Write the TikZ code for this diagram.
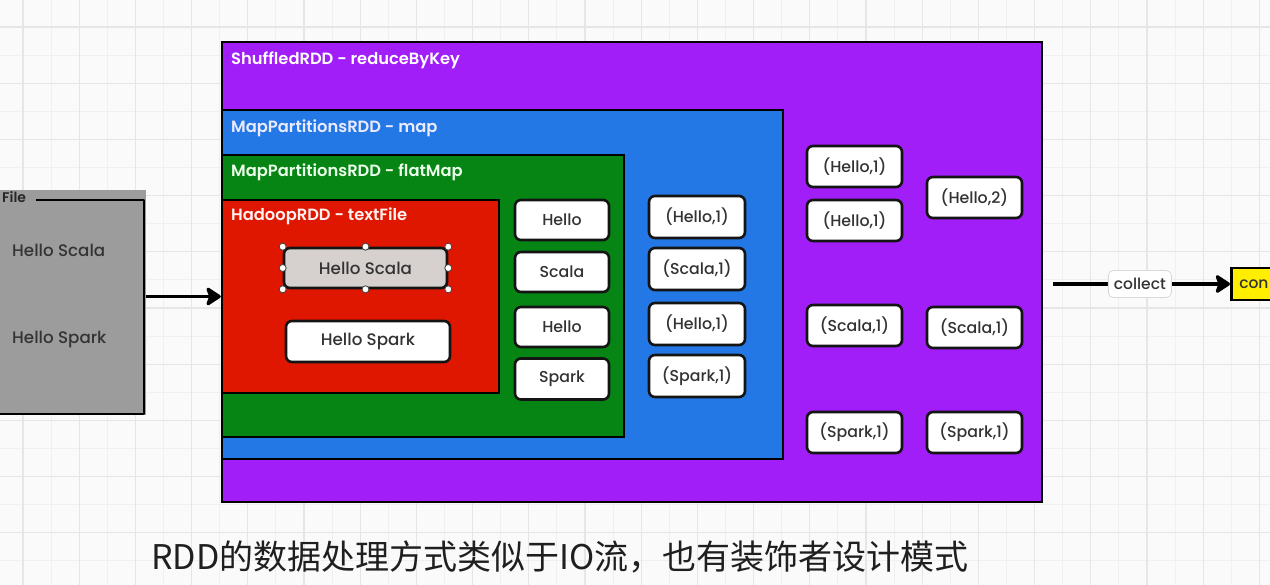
\documentclass[tikz,border=0pt]{standalone}
\usepackage{fontspec}
\setmainfont{Poppins}[UprightFont=* Medium, BoldFont=* SemiBold]
\newfontfamily\cjk{Noto Sans CJK SC}
\usetikzlibrary{arrows.meta,fit,calc}
\definecolor{bgc}{HTML}{FAFAFA}
\definecolor{gridminor}{HTML}{F0F0F0}
\definecolor{gridmajor}{HTML}{E6E6E6}
\definecolor{cpurple}{HTML}{A11EF8}
\definecolor{cblue}{HTML}{2478E6}
\definecolor{cgreen}{HTML}{068514}
\definecolor{cred}{HTML}{E01700}
\definecolor{cfile}{HTML}{9C9C9C}
\definecolor{csel}{HTML}{D6D0CE}
\definecolor{cyellow}{HTML}{FFEE00}
\definecolor{txt}{HTML}{333333}
\begin{document}
\begin{tikzpicture}[x=1pt,y=-1pt,
  cont/.style={rectangle, draw=black, line width=2.5pt, inner sep=0pt},
  clab/.style={anchor=west, inner sep=0pt, font=\bfseries\fontsize{16.3}{19}\selectfont},
  wbox/.style={rectangle, draw=black!92, line width=2.6pt, fill=white, rounded corners=6pt,
    minimum width=95pt, minimum height=41pt, inner sep=0pt, text=txt,
    font=\fontsize{15.8}{18}\selectfont},
  bigbox/.style={wbox, minimum width=164pt, font=\fontsize{16.7}{19}\selectfont},
  filetxt/.style={anchor=west, inner sep=0pt, text=txt, font=\fontsize{16.7}{19}\selectfont},
  handle/.style={circle, fill=white, draw=black!75, line width=0.8pt, inner sep=0pt, minimum size=7pt},
  arr/.style={line width=3.8pt, -{Stealth[length=17pt,width=22pt,inset=4pt,round]}},
  collectlab/.style={rectangle, rounded corners=5pt, fill=white, draw=black!15, line width=0.8pt,
    minimum width=63pt, minimum height=27pt, inner sep=0pt, text=txt, font=\fontsize{15.5}{18}\selectfont},
  ybox/.style={rectangle, fill=cyellow, draw=black, line width=2.5pt, anchor=west,
    minimum height=32pt, text width=50pt, align=left, inner xsep=8pt, inner ysep=0pt,
    text=txt, font=\fontsize{15.5}{18}\selectfont}
]
\useasboundingbox (0,0) rectangle (1270,585);
\fill[bgc] (0,0) rectangle (1270,585);
% grid
\foreach \i in {-1,...,45} {
  \draw[gridminor, line width=1pt] ({23+28.1*\i},0) -- ({23+28.1*\i},585);
}
\foreach \i in {-1,...,20} {
  \draw[gridminor, line width=1pt] (0,{27+28.1*\i}) -- (1270,{27+28.1*\i});
}
\foreach \i in {-1,...,22} {
  \draw[gridmajor, line width=1.2pt] ({23+56.2*\i},0) -- ({23+56.2*\i},585);
}
\foreach \i in {-1,...,10} {
  \draw[gridmajor, line width=1.2pt] (0,{27+56.2*\i}) -- (1270,{27+56.2*\i});
}

% File box
\node[rectangle, fill=cfile, inner sep=0pt, fit={(0,190) (146,415)}] (file) {};
\draw[black, line width=2.5pt, line join=round]
  ($(file.north west)+(36,10)$) -- ($(file.north east)+(-2,10)$)
  -- ($(file.south east)+(-2,-1)$) -- ($(file.south west)+(0,-1)$);
\node[anchor=west, inner sep=0pt, text=black!85, font=\bfseries\fontsize{14}{16}\selectfont] (filelab) at (2,197) {File};
\node[filetxt] (f1) at (12,250) {Hello Scala};
\node[filetxt] (f2) at (12,340) {Hello Spark};

% Containers
\node[cont, fill=cpurple, fit={(222,42) (1042,502)}] (shuffled) {};
\node[cont, fill=cblue, fit={(222,110) (783,459)}] (mapp) {};
\node[cont, fill=cgreen, fit={(222,155) (624,437)}] (flatmap) {};
\node[cont, fill=cred, fit={(222,200) (499,393)}] (hadoop) {};

\node[clab, text=white] (shuffledlab) at (231,60) {ShuffledRDD - reduceByKey};
\node[clab, text=white!92!blue] (mapplab) at (231,128) {MapPartitionsRDD - map};
\node[clab, text=white!92!green] (flatmaplab) at (231,172) {MapPartitionsRDD - flatMap};
\node[clab, text=white!95!red] (hadooplab) at (231,216) {HadoopRDD - textFile};

% HadoopRDD contents
\node[bigbox, fill=csel, minimum width=163pt, minimum height=40pt] (hs) at (365.5,268) {Hello Scala};
\node[bigbox] (hsp) at (368,341.5) {Hello Spark};
\foreach \a [count=\k] in {north west,north,north east,east,south east,south,south west,west} {
  \node[handle] (h\k) at (hs.\a) {};
}

% flatMap column
\node[wbox, minimum width=94pt, minimum height=40pt] (g1) at (562,220) {Hello};
\node[wbox, minimum width=94pt, minimum height=40pt] (g2) at (562,272) {Scala};
\node[wbox, minimum width=94pt, minimum height=40pt] (g3) at (562,327) {Hello};
\node[wbox, minimum width=94pt, minimum height=41pt] (g4) at (562,379) {Spark};

% map column
\node[wbox, minimum width=96pt, minimum height=42pt] (b1) at (697,217) {(Hello,1)};
\node[wbox, minimum width=96pt, minimum height=42pt] (b2) at (697,269) {(Scala,1)};
\node[wbox, minimum width=96pt, minimum height=42pt] (b3) at (697,324) {(Hello,1)};
\node[wbox, minimum width=96pt, minimum height=42pt] (b4) at (697,376) {(Spark,1)};

% shuffled columns
\node[wbox] (p1) at (854.5,166.5) {(Hello,1)};
\node[wbox] (p2) at (854.5,220.5) {(Hello,1)};
\node[wbox] (p3) at (854.5,325.5) {(Scala,1)};
\node[wbox] (p4) at (854.5,432.5) {(Spark,1)};
\node[wbox] (q1) at (974.5,197.5) {(Hello,2)};
\node[wbox] (q2) at (974.5,327.5) {(Scala,1)};
\node[wbox] (q3) at (974.5,432.5) {(Spark,1)};

% output box
\node[ybox] (console) at (1230,284) {con};

% arrows
\draw[arr] (hadoop.west -| file.east) -- (hadoop.west);
\draw[arr] ($(console.west -| shuffled.east)+(10,0)$) -- (console.west)
  node[collectlab, pos=0.49] (collect) {collect};

% caption
\node[anchor=west, inner sep=0pt, text=black!88, font=\cjk\fontsize{34}{40}\selectfont] (caption) at (151,557) {RDD的数据处理方式类似于IO流，也有装饰者设计模式};
\end{tikzpicture}
\end{document}
